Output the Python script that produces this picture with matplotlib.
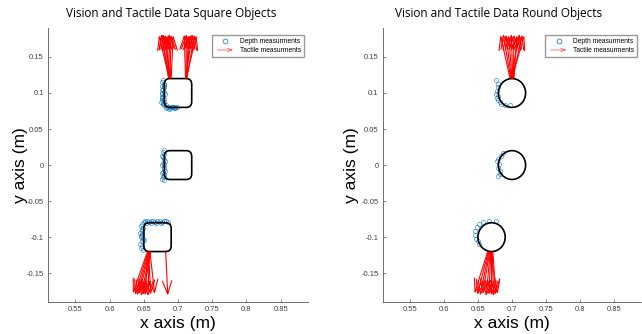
"""Depth points and tactile arrows around square and round test objects."""
import matplotlib

matplotlib.use("Agg")
import matplotlib.pyplot as plt  # noqa: E402
from matplotlib.legend_handler import HandlerBase  # noqa: E402
from matplotlib.lines import Line2D  # noqa: E402
from matplotlib.patches import Circle, FancyArrowPatch, FancyBboxPatch  # noqa: E402

plt.rcParams["font.family"] = ["Liberation Sans", "DejaVu Sans"]

DEPTH_BLUE = (0.0, 0.447, 0.741)
AXIS_GRAY = (0.35, 0.35, 0.35)

# object centres (m) and half size / radius
obj_x = [0.70, 0.70, 0.67]
obj_y = [0.10, 0.00, -0.10]
obj_half = 0.02

# depth points, square objects
sq_depth_x = [
    0.678, 0.676, 0.679, 0.677, 0.680, 0.678, 0.676, 0.679, 0.677, 0.681,
    0.678, 0.676, 0.680, 0.677, 0.679, 0.675, 0.678, 0.680, 0.677, 0.679,
    0.676, 0.678, 0.682, 0.684, 0.686, 0.688, 0.690, 0.692, 0.694, 0.696,
    0.698, 0.683, 0.687, 0.691, 0.695,
    0.679, 0.678, 0.680, 0.677, 0.679, 0.681, 0.678, 0.677, 0.680, 0.679,
    0.678, 0.676, 0.679, 0.680, 0.678, 0.677, 0.679, 0.681, 0.678, 0.680,
    0.648, 0.646, 0.649, 0.647, 0.645, 0.648, 0.646, 0.649, 0.647, 0.645,
    0.648, 0.646, 0.649, 0.647, 0.650, 0.648, 0.646, 0.650, 0.652, 0.655,
    0.658, 0.661, 0.664, 0.667, 0.670, 0.673, 0.676, 0.679, 0.682, 0.685,
    0.653, 0.660, 0.668, 0.675,
]
sq_depth_y = [
    0.118, 0.115, 0.113, 0.110, 0.108, 0.106, 0.104, 0.102, 0.100, 0.098,
    0.096, 0.094, 0.092, 0.090, 0.088, 0.087, 0.085, 0.084, 0.099, 0.111,
    0.093, 0.086, 0.083, 0.081, 0.080, 0.079, 0.080, 0.081, 0.079, 0.080,
    0.081, 0.079, 0.078, 0.080, 0.079,
    0.021, 0.018, 0.015, 0.012, 0.009, 0.006, 0.003, 0.000, -0.003, -0.006,
    -0.009, -0.011, -0.013, -0.015, -0.017, -0.019, -0.021, -0.008, 0.011, 0.002,
    -0.082, -0.085, -0.088, -0.091, -0.094, -0.097, -0.100, -0.103, -0.106, -0.109,
    -0.112, -0.115, -0.118, -0.095, -0.104, -0.089, -0.099, -0.079, -0.078, -0.077,
    -0.079, -0.078, -0.077, -0.079, -0.078, -0.077, -0.079, -0.078, -0.077, -0.079,
    -0.081, -0.080, -0.080, -0.080,
]

# depth points, round objects
rd_depth_x = [
    0.677, 0.679, 0.680, 0.678, 0.677, 0.679, 0.678, 0.680, 0.682, 0.684,
    0.690, 0.697,
    0.687, 0.684, 0.680, 0.678, 0.681, 0.679, 0.682, 0.683, 0.680,
    0.676, 0.666, 0.657, 0.652, 0.649, 0.646, 0.645, 0.647, 0.650, 0.652,
]
rd_depth_y = [
    0.118, 0.112, 0.108, 0.103, 0.099, 0.096, 0.093, 0.090, 0.087, 0.085,
    0.084, 0.084,
    0.017, 0.013, 0.009, 0.006, 0.002, -0.004, -0.008, -0.013, -0.015,
    -0.077, -0.077, -0.079, -0.082, -0.086, -0.091, -0.097, -0.102, -0.106, -0.109,
]

# tactile arrows: start point and end point (m)
sq_tac_x0 = [
    0.687, 0.688, 0.689, 0.688, 0.687, 0.689, 0.688, 0.690, 0.686,
    0.711, 0.712, 0.713, 0.712, 0.711, 0.713, 0.712,
    0.655, 0.656, 0.657, 0.658, 0.659, 0.660, 0.656, 0.658, 0.657, 0.659,
    0.682,
]
sq_tac_y0 = [
    0.121, 0.121, 0.121, 0.121, 0.121, 0.121, 0.121, 0.121, 0.121,
    0.121, 0.121, 0.121, 0.121, 0.121, 0.121, 0.121,
    -0.121, -0.121, -0.121, -0.121, -0.121, -0.121, -0.121, -0.121, -0.121, -0.121,
    -0.121,
]
sq_tac_x1 = [
    0.672, 0.675, 0.678, 0.681, 0.684, 0.687, 0.690, 0.693, 0.676,
    0.709, 0.712, 0.715, 0.718, 0.721, 0.724, 0.727,
    0.634, 0.637, 0.640, 0.643, 0.646, 0.649, 0.652, 0.656, 0.660, 0.666,
    0.685,
]
sq_tac_y1 = [
    0.180, 0.181, 0.182, 0.181, 0.180, 0.182, 0.181, 0.180, 0.182,
    0.181, 0.182, 0.180, 0.181, 0.182, 0.181, 0.180,
    -0.178, -0.180, -0.181, -0.179, -0.182, -0.180, -0.181, -0.182, -0.180, -0.179,
    -0.181,
]

rd_tac_x0 = [
    0.697, 0.698, 0.699, 0.700, 0.701, 0.702, 0.703, 0.699, 0.701, 0.700,
    0.664, 0.665, 0.666, 0.667, 0.668, 0.669, 0.670, 0.671, 0.672, 0.668,
]
rd_tac_y0 = [
    0.121, 0.121, 0.121, 0.121, 0.121, 0.121, 0.121, 0.121, 0.121, 0.121,
    -0.121, -0.121, -0.121, -0.121, -0.121, -0.121, -0.121, -0.121, -0.121, -0.121,
]
rd_tac_x1 = [
    0.683, 0.687, 0.691, 0.695, 0.699, 0.703, 0.707, 0.711, 0.715, 0.718,
    0.645, 0.649, 0.653, 0.657, 0.662, 0.666, 0.670, 0.673, 0.676, 0.679,
]
rd_tac_y1 = [
    0.180, 0.182, 0.181, 0.180, 0.182, 0.181, 0.180, 0.182, 0.181, 0.180,
    -0.178, -0.180, -0.181, -0.179, -0.182, -0.180, -0.181, -0.182, -0.180, -0.179,
]

x_ticks = [0.55, 0.6, 0.65, 0.7, 0.75, 0.8, 0.85]
x_tick_labels = ["0.55", "0.6", "0.65", "0.7", "0.75", "0.8", "0.85"]
y_ticks = [-0.15, -0.1, -0.05, 0, 0.05, 0.1, 0.15]
y_tick_labels = ["-0.15", "-0.1", "-0.05", "0", "0.05", "0.1", "0.15"]

ARROW_STYLE = "->,head_length=0.55,head_width=0.2"


class ArrowHandler(HandlerBase):
    """Legend entry drawn as a small red arrow."""

    def create_artists(self, legend, orig_handle, xdescent, ydescent,
                       width, height, fontsize, trans):
        y = height / 2 - ydescent
        arrow = FancyArrowPatch((-xdescent, y), (width - xdescent, y),
                                arrowstyle=ARROW_STYLE, mutation_scale=6,
                                color="red", lw=0.6, alpha=0.6, transform=trans)
        return [arrow]


def draw_panel(ax, title, title_x, ylabel_x, shape, depth_x, depth_y,
               x0, y0, x1, y1):
    for cx, cy in zip(obj_x, obj_y):
        if shape == "square":
            patch = FancyBboxPatch((cx - obj_half, cy - obj_half), 2 * obj_half,
                                   2 * obj_half,
                                   boxstyle="round,pad=0,rounding_size=0.008",
                                   fill=False, ec="black", lw=1.2, zorder=3)
        else:
            patch = Circle((cx, cy), obj_half, fill=False, ec="black", lw=1.2,
                           zorder=3)
        ax.add_patch(patch)

    ax.plot(depth_x, depth_y, "o", ms=3.0, mfc="none", mec=DEPTH_BLUE,
            mew=0.5, alpha=0.75, zorder=2)
    for xa, ya, xb, yb in zip(x0, y0, x1, y1):
        ax.annotate("", xy=(xb, yb), xytext=(xa, ya),
                    arrowprops=dict(arrowstyle=ARROW_STYLE, color="red",
                                    lw=0.8, shrinkA=0, shrinkB=0,
                                    mutation_scale=17))

    ax.set_xlim(0.51, 0.89)
    ax.set_ylim(-0.19, 0.19)
    ax.set_xticks(x_ticks, x_tick_labels)
    ax.set_yticks(y_ticks, y_tick_labels)
    ax.tick_params(direction="in", length=2.5, width=0.5, labelsize=5.5,
                   colors=AXIS_GRAY, labelcolor=(0.25, 0.25, 0.25), pad=3)
    for side in ("top", "right"):
        ax.spines[side].set_visible(False)
    for side in ("left", "bottom"):
        ax.spines[side].set_color(AXIS_GRAY)
        ax.spines[side].set_linewidth(0.6)

    ax.set_xlabel("x axis (m)", fontsize=12.5, labelpad=2)
    ax.set_ylabel("y axis (m)", fontsize=12.5)
    ax.yaxis.set_label_coords(ylabel_x, 0.5)
    ax.set_title(title, fontsize=8.5, family=["Open Sans", "DejaVu Sans"],
                 x=title_x, pad=8)

    depth_handle = Line2D([], [], ls="none", marker="o", ms=3.5, mfc="none",
                          mec=DEPTH_BLUE, mew=0.5)
    tactile_handle = Line2D([], [], color="red")
    ax.legend([depth_handle, tactile_handle],
              ["Depth measurments", "Tactile measurments"],
              loc="upper right", bbox_to_anchor=(0.985, 0.975),
              handler_map={tactile_handle: ArrowHandler()},
              fontsize=4.8, frameon=True, fancybox=False,
              edgecolor=(0.6, 0.6, 0.6), framealpha=1, borderpad=0.45,
              labelspacing=0.35, handlelength=3.2, handletextpad=0.6,
              borderaxespad=0)


fig = plt.figure(figsize=(6.42, 3.34), dpi=100)
ax_sq = fig.add_axes([0.0748, 0.0958, 0.405, 0.820])
ax_rd = fig.add_axes([0.596, 0.0958, 0.403, 0.820])

draw_panel(ax_sq, "Vision and Tactile Data Square Objects", 0.475, -0.077,
           "square", sq_depth_x, sq_depth_y,
           sq_tac_x0, sq_tac_y0, sq_tac_x1, sq_tac_y1)
draw_panel(ax_rd, "Vision and Tactile Data Round Objects", 0.449, -0.09,
           "round", rd_depth_x, rd_depth_y,
           rd_tac_x0, rd_tac_y0, rd_tac_x1, rd_tac_y1)

fig.savefig("out.png", dpi=100)
